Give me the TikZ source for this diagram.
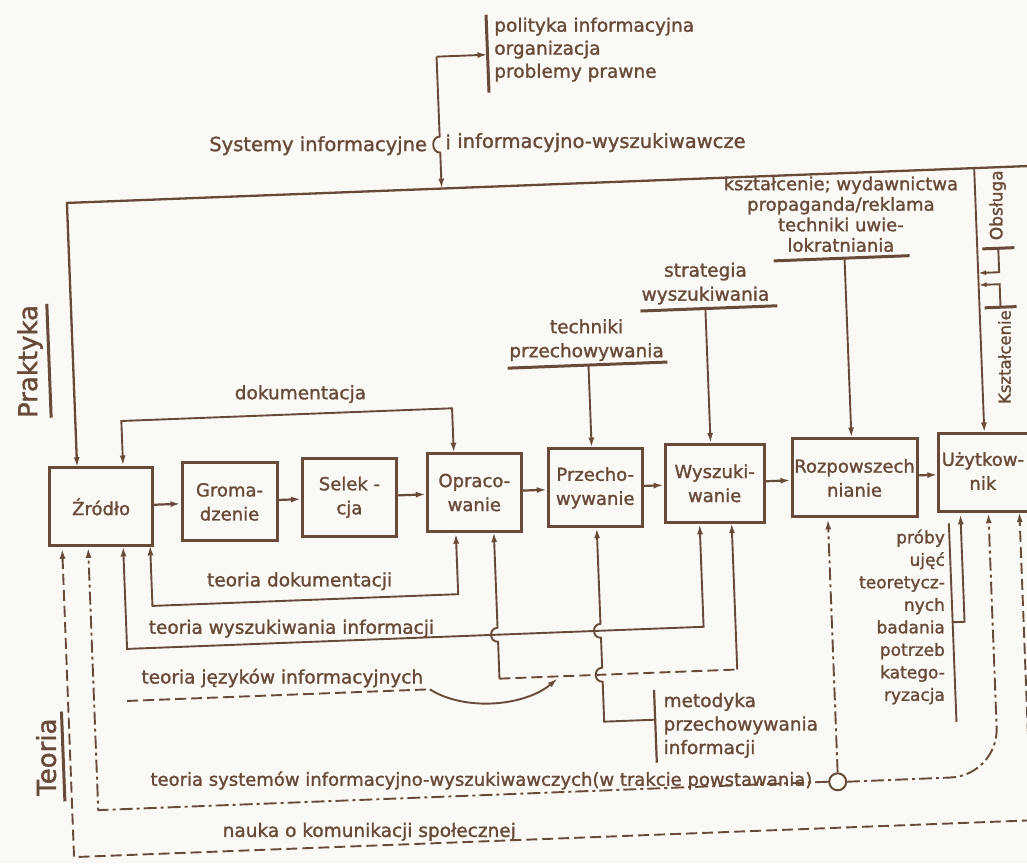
\documentclass[tikz,border=0pt]{standalone}
\usepackage{fontspec}
\setmainfont{DejaVu Sans}[FakeBold=1.4]
\usetikzlibrary{arrows.meta}
\definecolor{ink}{RGB}{104,74,58}
\definecolor{paper}{RGB}{251,249,245}
\newcommand\lblfont{\fontsize{18.5}{23}\selectfont}
\begin{document}
\begin{tikzpicture}[x=1pt,y=-1pt,
  ln/.style={draw=ink, line width=1.9pt},
  box/.style={draw=ink, line width=3pt, minimum height=78pt, inner sep=0pt, align=center, text=ink, font=\fontsize{18}{24}\selectfont},
  lab/.style={text=ink, font=\lblfont, inner sep=0pt},
  bar/.style={draw=ink, line width=3pt},
  arr/.style={-{Latex[length=10pt,width=6pt]}},
  arrs/.style={{Latex[length=10pt,width=6pt]}-{Latex[length=10pt,width=6pt]}},
  dsh/.style={dash pattern=on 11pt off 5pt},
  dsd/.style={dash pattern=on 13pt off 4pt on 3pt off 4pt},
]
\fill[paper] (0,0) rectangle (1027,863);
\useasboundingbox (0,0) rectangle (1027,863);
\clip (0,0) rectangle (1027,863);
\begin{scope}[rotate around={2.2:(513,431)}]
% ---------- boxes ----------
\node[box, minimum width=103pt] (zr) at (98.5,491) {Źródło};
\node[box, minimum width=95pt] (gr) at (227,491) {Groma-\\dzenie};
\node[box, minimum width=94pt] (se) at (347,491) {Selek -\\cja};
\node[box, minimum width=94pt] (op) at (472,491) {Opraco-\\wanie};
\node[box, minimum width=94pt] (pr) at (593,491) {Przecho-\\wywanie};
\node[box, minimum width=99pt] (wy) at (712.5,491) {Wyszuki-\\wanie};
\node[box, minimum width=125pt] (ro) at (852.5,491) {Rozpowszech\\nianie};
\node[box, minimum width=110pt] (uz) at (992,491) {};
\node[lab, align=center, font=\fontsize{18}{24}\selectfont] (uzt) at (981,489) {Użytkow-\\nik};
\foreach \a/\b in {zr/gr, gr/se, se/op, op/pr, pr/wy, wy/ro, ro/uz}
  \draw[ln, line width=2.2pt, arr] (\a) -- (\b);
% ---------- top ----------
\coordinate (tL) at (76,186);
\coordinate (tR) at (1045,186);
\coordinate (tM) at (451,186);
\coordinate (tU) at (984,186);
\draw[ln,line width=2.3pt,arr] (tR) -- (tL) -- (tL |- zr.north);
\draw[ln,arr] (tU) -- (tU |- uz.north);
\coordinate (jt) at (451,54);
\coordinate (brk) at (502,54);
\draw[ln,arr] (jt) -- (brk);
\draw[ln,arr] (jt) -- (451,134) .. controls (442,134) and (442,150) .. (451,150) -- (tM);
\draw[bar] (502,14) -- (502,92);
\node[lab, anchor=north west, align=left] (pol) at (510,17) {polityka informacyjna\\organizacja\\problemy prawne};
\node[lab, anchor=base east, font=\fontsize{19.5}{23}\selectfont] (sy) at (438,148) {Systemy informacyjne};
\node[lab, anchor=base, font=\fontsize{19.5}{23}\selectfont] (si) at (459,147) {i};
\node[lab, anchor=base west, font=\fontsize{19.5}{23}\selectfont] (sw2) at (468,146) {informacyjno-wyszukiwawcze};
% dokumentacja
\node[lab] (dk) at (302,386) {dokumentacja};
\coordinate (dkL) at (122,406);
\coordinate (dkR) at (453,406);
\draw[ln,arrs] (dkL |- zr.north) -- (dkL) -- (dkR) -- (dkR |- op.north);
% techniki przechowywania
\node[lab, align=center, font=\fontsize{18.5}{24}\selectfont] (tp) at (590,343) {techniki\\przechowywania};
\draw[bar] (510,368) -- (670,368);
\coordinate (tpb) at (591,368);
\draw[ln,arr] (tpb) -- (tpb |- pr.north);
% strategia
\node[lab, align=center, font=\fontsize{18.5}{24}\selectfont] (sw) at (711,291) {strategia\\wyszukiwania};
\draw[bar] (645,316) -- (782,316);
\coordinate (swb) at (710,316);
\draw[ln,arr] (swb) -- (swb |- wy.north);
% ksztalcenie
\node[lab, align=center, font=\fontsize{18}{20.5}\selectfont] (kw) at (849,227) {kształcenie; wydawnictwa\\propaganda/reklama\\techniki uwie-\\lokratniania};
\draw[bar] (780,271) -- (916,271);
\coordinate (kwb) at (851,271);
\draw[ln,arr] (kwb) -- (kwb |- ro.north);
% Obsluga / Ksztalcenie
\draw[bar] (989,267) -- (1021,267);
\draw[bar] (989,326) -- (1021,326);
\coordinate (ob) at (1005,267);
\coordinate (ks) at (1005,326);
\coordinate (oa) at (1005,291);
\coordinate (ka) at (1005,303);
\draw[ln,-{Latex[length=8pt,width=5pt]}] (ob) -- (oa) -- (oa -| tU);
\draw[ln,-{Latex[length=8pt,width=5pt]}] (ks) -- (ka) -- (ka -| tU);
\node[lab, rotate=90, font=\fontsize{17}{20}\selectfont] (obt) at (1006,224) {Obsługa};
\node[lab, rotate=90, font=\fontsize{16.5}{20}\selectfont] (kst) at (1007,376) {Kształcenie};
% ---------- bottom ----------
\coordinate (tdL) at (146,592);
\coordinate (tdR) at (452,592);
\draw[ln,arrs] (tdL |- zr.south) -- (tdL) -- (tdR) -- (tdR |- op.south);
\node[lab] (tdt) at (294,573) {teoria dokumentacji};
\coordinate (twL) at (119,634);
\coordinate (twR) at (696,634);
\draw[ln,arrs] (twL |- zr.south) -- (twL) -- (twR) -- (twR |- wy.south);
\node[lab] (twt) at (284,620) {teoria wyszukiwania informacji};
% Opracowanie - Wyszukiwanie
\coordinate (oc) at (490,678);
\coordinate (wc) at (728,678);
\draw[ln,arr] (oc) -- (490,641) .. controls (481,641) and (481,627) .. (490,627) -- (oc |- op.south);
\draw[ln,dsh] (oc) -- (wc);
\draw[ln,arr] (wc) -- (wc |- wy.south);
% Przechowywanie - metodyka
\coordinate (pc) at (593,725);
\coordinate (mb) at (644,725);
\draw[ln,arr] (mb) -- (pc) -- (593,685) .. controls (584,685) and (584,671) .. (593,671) -- (593,641) .. controls (584,641) and (584,627) .. (593,627) -- (pc |- pr.south);
\draw[ln, line width=2.2pt] (644,695) -- (644,768);
\node[lab, anchor=west, align=left, font=\fontsize{18.5}{23.5}\selectfont] (met) at (652,731) {metodyka\\przechowywania\\informacji};
% teoria jezykow
\coordinate (tjL) at (117,686);
\coordinate (tjR) at (420,686);
\draw[ln,dsh] (tjL) -- (tjR);
\draw[ln,arr] (tjR) .. controls (455,710) and (515,706) .. (548,680);
\node[lab] (tjt) at (273,669) {teoria języków informacyjnych};
% teoria systemow
\node[circle, draw=ink, line width=2pt, minimum size=17pt, inner sep=0pt] (cir) at (824,794) {};
\coordinate (tsL) at (84,794);
\coordinate (tsR) at (985,794);
\draw[ln,dsd,arr] (cir.west) -- (tsL) -- (tsL |- zr.south);
\draw[ln,dsd,arr] (cir.north) -- (cir.north |- ro.south);
\draw[ln,dsd,arr,rounded corners=48pt] (cir.east) -- (tsR) -- (tsR |- uz.south);
\node[lab, font=\fontsize{18}{22}\selectfont] (tst) at (468,779) {teoria systemów informacyjno-wyszukiwawczych(w trakcie powstawania)};
% nauka o komunikacji
\coordinate (nkL) at (58,840);
\coordinate (nkR) at (1016,840);
\draw[ln,dsh,arrs] (nkL |- zr.south) -- (nkL) -- (nkR) -- (nkR |- uz.south);
\node[lab] (nkt) at (354,826) {nauka o komunikacji społecznej};
% proby
\draw[ln] (945,540) -- (945,739);
\node[lab, anchor=north east, align=right, font=\fontsize{17}{22.5}\selectfont] (prb) at (941,546) {próby\\ujęć\\teoretycz-\\nych\\badania\\potrzeb\\katego-\\ryzacja};
\coordinate (pb) at (945,639);
\coordinate (pb2) at (957,639);
\draw[ln,arr] (pb) -- (pb2) -- (pb2 |- uz.south);
% Praktyka / Teoria
\node[lab, rotate=90, font=\fontsize{26}{30}\selectfont] (prk) at (33,343) {Praktyka};
\draw[bar] (52,286) -- (52,400);
\node[lab, rotate=90, font=\fontsize{26}{30}\selectfont] (teo) at (34,739) {Teoria};
\draw[bar] (51,694) -- (51,784);
\end{scope}
\end{tikzpicture}
\end{document}
